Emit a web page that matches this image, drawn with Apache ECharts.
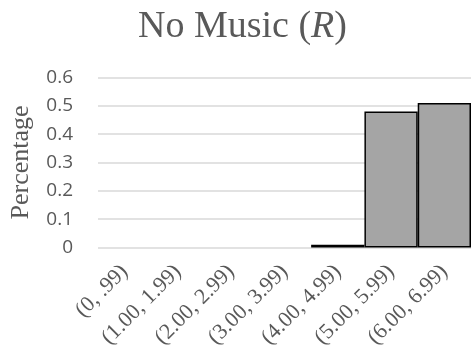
<!DOCTYPE html>
<html>
<head>
<meta charset="utf-8">
<script src="https://cdn.jsdelivr.net/npm/echarts@6/dist/echarts.min.js"></script>
<style>
  html, body { margin: 0; padding: 0; background: #ffffff; }
  #chart { width: 471px; height: 358px; }
</style>
</head>
<body>
<div id="chart"></div>
<script>
// Score bins and the share of responses in each bin
const categories = ['(0, .99)', '(1.00, 1.99)', '(2.00, 2.99)', '(3.00, 3.99)', '(4.00, 4.99)', '(5.00, 5.99)', '(6.00, 6.99)'];
const percentages = [0, 0, 0, 0, 0.01, 0.48, 0.51];
const yTicks = [0, 0.1, 0.2, 0.3, 0.4, 0.5, 0.6];

const textGray = '#595959';
const serif = '"Liberation Serif", "Times New Roman", serif';

const chart = echarts.init(document.getElementById('chart'));
chart.setOption({
  animation: false,
  title: {
    text: '{a|No Music (}{b|R}{a|)}',
    left: 133,
    top: 3,
    textStyle: {
      rich: {
        a: { fontFamily: serif, fontSize: 38, fontWeight: 'normal', color: textGray },
        b: { fontFamily: serif, fontSize: 38, fontWeight: 'normal', color: textGray, fontStyle: 'italic' }
      }
    }
  },
  grid: { left: 95, right: 0, top: 77.5, bottom: 110.5, containLabel: false },
  xAxis: {
    type: 'category',
    data: categories,
    axisLine: { show: false },
    axisTick: { show: false },
    axisLabel: {
      rotate: 45,
      interval: 0,
      margin: 21,
      fontFamily: serif,
      fontSize: 22,
      color: textGray
    }
  },
  yAxis: {
    type: 'value',
    min: yTicks[0],
    max: yTicks[yTicks.length - 1],
    interval: 0.1,
    name: 'Percentage',
    nameLocation: 'middle',
    nameGap: 64,
    nameTextStyle: { fontFamily: serif, fontSize: 26, color: textGray },
    axisLine: { show: false },
    axisTick: { show: false },
    axisLabel: {
      margin: 25,
      fontFamily: '"Open Sans", sans-serif',
      fontSize: 19,
      color: textGray,
      formatter: v => String(Math.round(v * 10) / 10)
    },
    splitLine: { lineStyle: { color: '#d9d9d9', width: 1.5 } }
  },
  series: [{
    type: 'bar',
    barCategoryGap: 0,
    data: percentages.map(v => ({
      value: v,
      itemStyle: v > 0
        ? { color: '#a5a5a5', borderColor: '#000000', borderWidth: 1.5 }
        : { color: 'transparent', borderWidth: 0 }
    }))
  }]
});
</script>
</body>
</html>
